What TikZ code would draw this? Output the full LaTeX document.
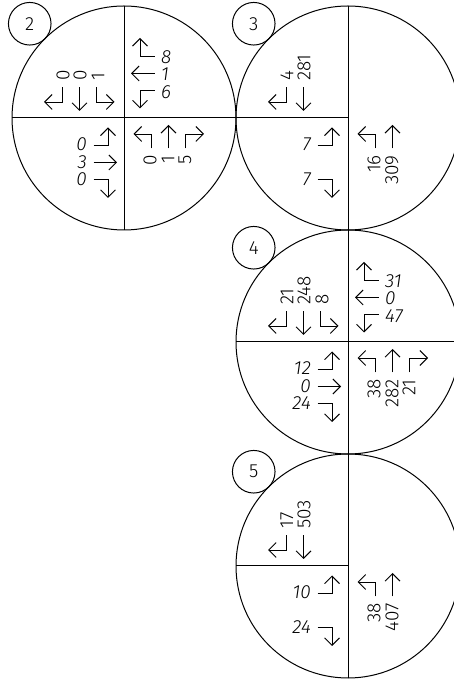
\documentclass[tikz,border=0pt]{standalone}
\usepackage{fontspec}
\IfFontExistsTF{Fira Sans Light}{%
  \IfFontExistsTF{Fira Sans Light Italic}{%
    \setmainfont{Fira Sans Light}[ItalicFont={Fira Sans Light Italic}]}{%
    \setmainfont{Fira Sans Light}}}{%
  \setmainfont{Fira Sans}}
\usetikzlibrary{arrows.meta,calc}
% lanes of one approach, drawn in the frame of the westbound approach
\newcommand\lnA[2]{\draw[arr] (30.5,61.5) -- (16,61.5) -- (16,80);
  \node[lab,qlab] (#1) at (37,61) {#2};}
\newcommand\lnB[2]{\draw[arr] (30.5,44.5) -- (7,44.5);
  \node[lab,qlab] (#1) at (37,44) {#2};}
\newcommand\lnC[2]{\draw[arr] (30.5,27.5) -- (16,27.5) -- (16,9.5);
  \node[lab,qlab] (#1) at (37,26) {#2};}
\begin{document}
\begin{tikzpicture}[x=1pt,y=1pt,
  ring/.style={line width=1pt},
  arr/.style={line width=0.9pt,-{Straight Barb[length=7.5pt,width=15pt]}},
  numfont/.style={font=\fontsize{19}{19}\selectfont},
  lab/.style={inner sep=0pt,numfont},
  tag/.style={circle,draw,line width=1pt,minimum size=42.6pt,inner sep=0pt,numfont},
  qTL/.style={shift={(#1)},rotate=90,qlab/.style={anchor=west,rotate=90}},
  qTR/.style={shift={(#1)},qlab/.style={anchor=west,font=\fontsize{19}{19}\selectfont\itshape}},
  qBL/.style={shift={(#1)},rotate=180,qlab/.style={anchor=east,font=\fontsize{19}{19}\selectfont\itshape}},
  qBR/.style={shift={(#1)},rotate=270,qlab/.style={anchor=east,rotate=90}}]
\useasboundingbox (0,0) rectangle (454,679);
\clip (0,0) rectangle (454,679);
\coordinate (c2) at (124,561);
\coordinate (c3) at (348,561);
\coordinate (c4) at (348,337);
\coordinate (c5) at (348,113);
% circles and their dividing lines
\foreach \c in {c2,c3,c4,c5}{
  \draw[ring] (\c) circle[radius=112];
  \draw[ring] (\c) ++(0,-112) -- ++(0,224);
}
\draw[ring] (c2) ++(-112,0) -- ++(224,0);
\draw[ring] (c4) ++(-112,0) -- ++(224,0);
\draw[ring] (c3) ++(-112,0) -- (c3);
\draw[ring] (c5) ++(-112,0) -- (c5);
% tags
\node[tag] (t2) at ($(c2)+(135:133.3)$) {2};
\node[tag] (t3) at ($(c3)+(135:133.3)$) {3};
\node[tag] (t4) at ($(c4)+(135:133.3)$) {4};
\node[tag] (t5) at ($(c5)+(135:133.3)$) {5};
% circle 2
\begin{scope}[qTL=c2] \lnA{c2tla}{0} \lnB{c2tlb}{0} \lnC{c2tlc}{1} \end{scope}
\begin{scope}[qTR=c2] \lnA{c2tra}{8} \lnB{c2trb}{1} \lnC{c2trc}{6} \end{scope}
\begin{scope}[qBL=c2] \lnA{c2bla}{0} \lnB{c2blb}{3} \lnC{c2blc}{0} \end{scope}
\begin{scope}[qBR=c2] \lnA{c2bra}{5} \lnB{c2brb}{1} \lnC{c2brc}{0} \end{scope}
% circle 3
\begin{scope}[qTL=c3] \lnA{c3tla}{4} \lnB{c3tlb}{281} \end{scope}
\begin{scope}[qBL=c3] \lnA{c3bla}{7} \lnC{c3blc}{7} \end{scope}
\begin{scope}[qBR=c3] \lnB{c3brb}{309} \lnC{c3brc}{16} \end{scope}
% circle 4
\begin{scope}[qTL=c4] \lnA{c4tla}{21} \lnB{c4tlb}{248} \lnC{c4tlc}{8} \end{scope}
\begin{scope}[qTR=c4] \lnA{c4tra}{31} \lnB{c4trb}{0} \lnC{c4trc}{47} \end{scope}
\begin{scope}[qBL=c4] \lnA{c4bla}{24} \lnB{c4blb}{0} \lnC{c4blc}{12} \end{scope}
\begin{scope}[qBR=c4] \lnA{c4bra}{21} \lnB{c4brb}{282} \lnC{c4brc}{38} \end{scope}
% circle 5
\begin{scope}[qTL=c5] \lnA{c5tla}{17} \lnB{c5tlb}{503} \end{scope}
\begin{scope}[qBL=c5] \lnA{c5bla}{24} \lnC{c5blc}{10} \end{scope}
\begin{scope}[qBR=c5] \lnB{c5brb}{407} \lnC{c5brc}{38} \end{scope}
\end{tikzpicture}
\end{document}
